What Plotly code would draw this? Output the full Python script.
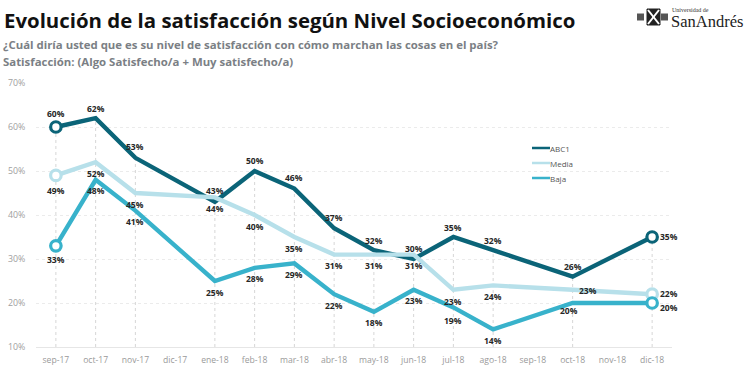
import plotly.graph_objects as go

months = ["sep-17","oct-17","nov-17","dic-17","ene-18","feb-18","mar-18","abr-18",
          "may-18","jun-18","jul-18","ago-18","sep-18","oct-18","nov-18","dic-18"]
abc1 =  [60,62,53,None,43,50,46,37,32,30,35,32,None,26,None,35]
media = [49,52,45,None,44,40,35,31,31,31,23,24,None,23,None,22]
baja =  [33,48,41,None,25,28,29,22,18,23,19,14,None,20,None,20]
y_ticks = [10,20,30,40,50,60,70]

series = [("ABC1", abc1, "#0b6478"), ("Media", media, "#b7e0ea"), ("Baja", baja, "#38b2cb")]

W, H, L, R, T, B = 750, 370, 36, 78, 83, 23
def px(x): return (x - L) / (W - L - R)
def py(y): return (H - B - y) / (H - T - B)

shift_x = {("ABC1",15):17, ("Media",15):17, ("Baja",15):17, ("Media",13):15, ("Baja",13):-4}
shift_y = {("ABC1",0):14,("ABC1",1):10,("ABC1",2):11,("ABC1",4):11,("ABC1",5):11,("ABC1",6):11,("ABC1",7):11,
           ("ABC1",8):10,("ABC1",9):11,("ABC1",10):10,("ABC1",11):10,("ABC1",13):10,("ABC1",15):1,
           ("Media",0):-15,("Baja",0):-14,("Media",15):1,("Baja",15):-4,("Media",13):-1,
           ("Baja",10):-13,("Baja",13):-7,("Media",10):-12}

fig = go.Figure()

dx, dy = [], []
for i, m in enumerate(months):
    vals = [s[i] for _, s, _ in series if s[i] is not None]
    if vals:
        dx += [m, m, None]
        dy += [y_ticks[0], max(vals), None]
fig.add_trace(go.Scatter(x=dx, y=dy, mode="lines", showlegend=False, hoverinfo="skip",
                         line=dict(color="#d6d6d6", width=1, dash="dot")))

for name, vals, col in series:
    fig.add_trace(go.Scatter(x=months, y=vals, name=name, mode="lines", connectgaps=True,
                             showlegend=False, line=dict(color=col, width=4.4)))
for name, vals, col in series:
    ends = [0, len(months)-1]
    fig.add_trace(go.Scatter(x=[months[i] for i in ends], y=[vals[i] for i in ends], mode="markers",
                             showlegend=False,
                             marker=dict(size=10.5, color="white", line=dict(color=col, width=3.2))))

for name, vals, col in series:
    for i, v in enumerate(vals):
        if v is None:
            continue
        fig.add_annotation(x=months[i], y=v, text=f"<b>{v}%</b>", showarrow=False,
                           xshift=shift_x.get((name,i),0), yshift=shift_y.get((name,i), -11),
                           font=dict(family="Open Sans", size=8.5, color="#262626"))

# legend
for k, (name, vals, col) in enumerate(series):
    ly = 148 + 15 * k
    fig.add_shape(type="line", xref="paper", yref="paper", x0=px(532), x1=px(550), y0=py(ly), y1=py(ly),
                  line=dict(color=col, width=2.5))
    fig.add_annotation(xref="paper", yref="paper", x=px(550), y=py(ly), xanchor="left", yanchor="middle",
                       xshift=-2, text=name, showarrow=False, font=dict(family="Open Sans", size=8, color="#555555"))

def note(text, x, y, size, color, family="Open Sans"):
    fig.add_annotation(xref="paper", yref="paper", x=px(x), y=py(y), xanchor="left", yanchor="middle",
                       xshift=-2, text=text, showarrow=False, font=dict(family=family, size=size, color=color))

note("<b>Evolución de la satisfacción según Nivel Socioeconómico</b>", 4, 20, 20.4, "#111111")
note("<b>¿Cuál diría usted que es su nivel de satisfacción con cómo marchan las cosas en el país?</b>", 3, 44, 11.4, "#7b7f85")
note("<b>Satisfacción: (Algo Satisfecho/a + Muy satisfecho/a)</b>", 3, 61, 11.4, "#7b7f85")
note("Universidad de", 672, 10, 6, "#333333", "Liberation Serif")
note("SanAndrés", 671, 21, 16.5, "#222222", "Liberation Serif")

# logo crest
fig.add_shape(type="rect", xref="paper", yref="paper", x0=px(647), x1=px(660), y0=py(25), y1=py(9),
              fillcolor="#222222", line=dict(color="#222222", width=1))
fig.add_shape(type="line", xref="paper", yref="paper", x0=px(648), x1=px(659), y0=py(24), y1=py(10),
              line=dict(color="white", width=2))
fig.add_shape(type="line", xref="paper", yref="paper", x0=px(648), x1=px(659), y0=py(10), y1=py(24),
              line=dict(color="white", width=2))
for a, b in [(637, 646), (661, 669)]:
    fig.add_shape(type="line", xref="paper", yref="paper", x0=px(a), x1=px(b), y0=py(17), y1=py(17),
                  line=dict(color="#555555", width=7, dash="dot"))

fig.update_layout(
    width=W, height=H, autosize=False,
    margin=dict(l=L, r=R, t=T, b=B),
    paper_bgcolor="white", plot_bgcolor="white", showlegend=False,
    font=dict(family="Open Sans", size=9, color="#8f8f8f"),
    xaxis=dict(type="category", categoryorder="array", categoryarray=months, tickvals=months,
               range=[-0.5, 15.5], showgrid=False, zeroline=False, showline=True, automargin=False,
               linecolor="#e6e6e6", ticks="outside", ticklen=5, tickcolor="rgba(0,0,0,0)",
               tickfont=dict(size=8.6, color="#9a9a9a")),
    yaxis=dict(range=[10, 70], tickvals=y_ticks, ticktext=[f"{t}%" for t in y_ticks], automargin=False,
               showgrid=True, gridcolor="#ebebeb", griddash="dot", zeroline=False,
               ticks="outside", ticklen=8, tickcolor="rgba(0,0,0,0)",
               tickfont=dict(size=8.8, color="#a0a0a0")),
)
fig.write_html("out.html", config={"displayModeBar": False},
               post_script="document.body.style.margin='0';document.body.style.overflow='hidden';")
